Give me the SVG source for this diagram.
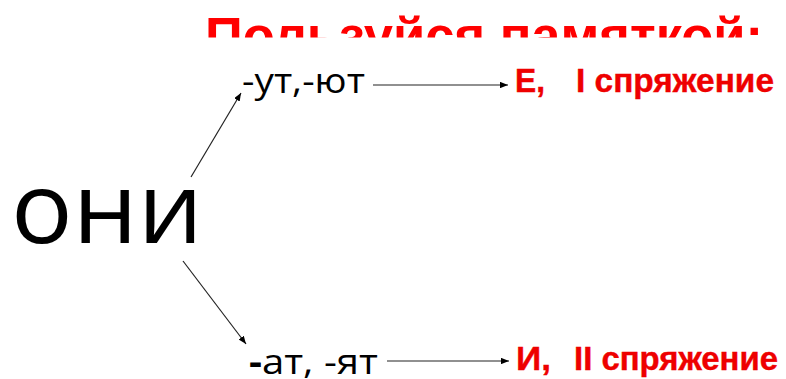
<svg xmlns="http://www.w3.org/2000/svg" width="786" height="379" viewBox="0 0 786 379">
<style>
.t{font-family:"Open Sans","Liberation Sans",sans-serif;fill:#000}
.r{font-family:"Liberation Sans",Arial,sans-serif;font-weight:bold;fill:#ee0000;stroke:#ee0000;stroke-width:0.4}
.c{stroke:#222;stroke-width:1.2;fill:none;marker-end:url(#ah)}
</style>
<defs>
<marker id="ah" viewBox="0 0 10 8" refX="10" refY="4" markerWidth="8" markerHeight="6.4" markerUnits="userSpaceOnUse" orient="auto">
<path d="M0,0L10,4L0,8z" fill="#000"/>
</marker>
<clipPath id="tc"><rect x="0" y="0" width="786" height="37.5"/></clipPath>
</defs>
<rect width="786" height="379" fill="#fff"/>
<g id="title" clip-path="url(#tc)">
<text x="205" y="53.5" font-family="Liberation Sans, Arial, sans-serif" font-weight="bold" font-size="51" fill="#ff0000" textLength="558" lengthAdjust="spacingAndGlyphs">Пользуйся памяткой:</text>
</g>
<g id="oni">
<text class="t" x="11" y="243" font-size="99" textLength="192" lengthAdjust="spacingAndGlyphs">они</text>
</g>
<g id="ut">
<text class="t" x="242" y="93" font-size="34" textLength="123" lengthAdjust="spacingAndGlyphs">-ут,-ют</text>
</g>
<g id="at">
<text class="t" x="249" y="374" font-size="35" textLength="129" lengthAdjust="spacingAndGlyphs"><tspan font-weight="bold">-</tspan>ат, -ят</text>
</g>
<g id="e1">
<text class="r" x="515" y="92" font-size="33" textLength="30" lengthAdjust="spacingAndGlyphs">Е,</text>
<text class="r" x="576" y="92" font-size="33" textLength="198" lengthAdjust="spacingAndGlyphs">I спряжение</text>
</g>
<g id="i2">
<text class="r" x="516" y="370" font-size="34" textLength="35" lengthAdjust="spacingAndGlyphs">И,</text>
<text class="r" x="574" y="370" font-size="33" textLength="204" lengthAdjust="spacingAndGlyphs">II спряжение</text>
</g>
<g id="connectors">
<line class="c" x1="191" y1="177" x2="241" y2="93"/>
<line class="c" x1="183" y1="261" x2="246" y2="344"/>
<line class="c" x1="373" y1="85" x2="508" y2="85"/>
<line class="c" x1="387" y1="361" x2="509" y2="361"/>
</g>
</svg>
